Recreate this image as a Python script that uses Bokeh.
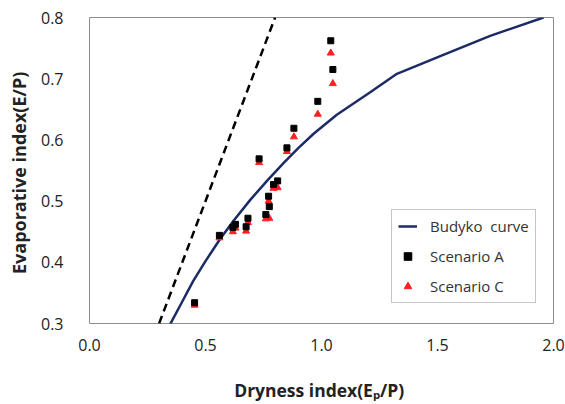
from bokeh.plotting import figure
from bokeh.models import Range1d, FixedTicker, Legend, LegendItem
from bokeh.embed import file_html
from bokeh.resources import INLINE

# Budyko curve
budyko_x = [0.348, 0.40, 0.448, 0.50, 0.563, 0.621, 0.693, 0.765, 0.836, 0.901, 0.966, 1.066, 1.21, 1.325, 1.512, 1.727, 1.957]
budyko_y = [0.299, 0.336, 0.370, 0.402, 0.438, 0.468, 0.502, 0.533, 0.562, 0.587, 0.610, 0.641, 0.678, 0.708, 0.737, 0.770, 0.800]

# Energy limit (dashed) line
energy_x = [0.30, 0.80]
energy_y = [0.30, 0.80]

# Scenario points
scen_x = [0.453, 0.560, 0.618, 0.629, 0.675, 0.683, 0.731, 0.760, 0.775, 0.772, 0.793, 0.811, 0.851, 0.881, 0.984, 1.040, 1.049]
scen_a = [0.334, 0.444, 0.457, 0.462, 0.458, 0.472, 0.569, 0.478, 0.491, 0.508, 0.527, 0.533, 0.587, 0.619, 0.663, 0.762, 0.715]
scen_c = [0.330, 0.440, 0.450, 0.456, 0.451, 0.465, 0.563, 0.471, 0.472, 0.500, 0.521, 0.522, 0.581, 0.605, 0.642, 0.742, 0.692]

x_ticks = [0.0, 0.5, 1.0, 1.5, 2.0]
x_tick_labels = ["0.0", "0.5", "1.0", "1.5", "2.0"]
y_ticks = [0.3, 0.4, 0.5, 0.6, 0.7, 0.8]
y_tick_labels = ["0.3", "0.4", "0.5", "0.6", "0.7", "0.8"]

FONT = "Open Sans"

p = figure(width=565, height=404, output_backend="svg", toolbar_location=None,
           x_range=Range1d(0, 2), y_range=Range1d(0.3, 0.8),
           min_border_left=89, min_border_right=12, min_border_top=17, min_border_bottom=81)
p.background_fill_color = "white"
p.border_fill_color = "white"
p.outline_line_color = "#8c8c8c"
p.outline_line_width = 1
p.grid.visible = False

for ax in (p.xaxis[0], p.yaxis[0]):
    ax.axis_line_color = None
    ax.major_tick_line_color = None
    ax.minor_tick_line_color = None
    ax.major_tick_out = 0
    ax.major_tick_in = 0
    ax.minor_tick_out = 0
    ax.minor_tick_in = 0
    ax.major_label_text_font = FONT
    ax.major_label_text_font_size = "16px"
    ax.major_label_text_color = "#222222"
    ax.axis_label_text_font = FONT
    ax.axis_label_text_font_style = "bold"
    ax.axis_label_text_color = "#222222"

p.xaxis.axis_label_text_font_size = "17.5px"
p.yaxis.axis_label_text_font_size = "18px"
p.xaxis.ticker = FixedTicker(ticks=x_ticks)
p.xaxis.major_label_overrides = dict(zip(x_ticks, x_tick_labels))
p.yaxis.ticker = FixedTicker(ticks=y_ticks)
p.yaxis.major_label_overrides = dict(zip(y_ticks, y_tick_labels))
p.xaxis.axis_label = "Dryness  index(E\u209a/P)"
p.yaxis.axis_label = "Evaporative  index(E/P)"
p.xaxis.major_label_standoff = 15
p.xaxis.axis_label_standoff = 24
p.yaxis.major_label_standoff = 26
p.yaxis.axis_label_standoff = 7

dash = p.line(energy_x, energy_y, line_color="black", line_width=2.5, line_dash="8 5")
curve = p.line(budyko_x, budyko_y, line_color="#1c2b66", line_width=2.5, line_join="round")
tri = p.scatter(scen_x, scen_c, marker="triangle", size=7, fill_color="#ff1f1f", line_color="#ff1f1f")
sq = p.scatter(scen_x, scen_a, marker="square", size=6, fill_color="black", line_color="black")

legend = Legend(items=[LegendItem(label="Budyko  curve", renderers=[curve]),
                       LegendItem(label="Scenario A", renderers=[sq]),
                       LegendItem(label="Scenario C", renderers=[tri])],
                location=(302, 20))
legend.label_text_font = FONT
legend.label_text_font_size = "15px"
legend.label_text_color = "#333333"
legend.border_line_color = "#8c8c8c"
legend.border_line_width = 1
legend.background_fill_alpha = 1
legend.padding = 6
legend.margin = 0
legend.spacing = 10
legend.glyph_width = 19
legend.glyph_height = 20
legend.label_height = 20
legend.label_standoff = 13
p.add_layout(legend, "center")

open("out.html", "w").write(file_html(p, INLINE))
